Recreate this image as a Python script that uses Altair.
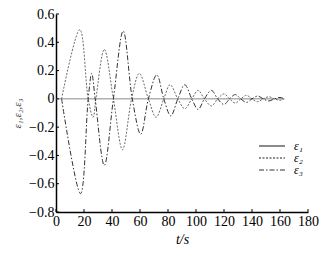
import altair as alt
import pandas as pd

# ε2 (dotted): time (s) and value
t_e2 = [4, 17, 23, 26.5, 28.5, 34.5, 41, 47.5, 54, 59.5, 66, 71.5, 77, 81.5, 87, 92, 97,
        101.5, 106, 111, 115.5, 120, 124, 128, 132, 136, 140, 144, 148, 152, 156, 160, 163]
v_e2 = [0, 0.49, 0, -0.13, 0, 0.35, 0, -0.36, 0, 0.18, 0, -0.13, 0, 0.10, 0, -0.07, 0,
        0.06, 0, -0.05, 0, 0.035, 0, -0.03, 0, 0.025, 0, -0.02, 0, 0.015, 0, -0.01, 0]

# ε3 (dash-dot)
t_e3 = [4, 17.5, 23, 25.5, 28, 34.5, 41, 48, 54.5, 60.5, 66, 72, 77, 82, 87, 92, 97,
        101.5, 106, 111, 115.5, 120, 124, 128, 132, 136, 140, 144, 148, 152, 156, 160, 163]
v_e3 = [0, -0.67, 0, 0.18, 0, -0.47, 0, 0.48, 0, -0.25, 0, 0.17, 0, -0.12, 0, 0.10, 0,
        -0.075, 0, 0.06, 0, -0.04, 0, 0.03, 0, -0.025, 0, 0.02, 0, -0.015, 0, 0.01, 0]

# ε1 (solid, stays at zero)
t_e1 = [0, 163]
v_e1 = [0, 0]

series_names = ["ε₁", "ε₂", "ε₃"]
x_ticks = [0, 20, 40, 60, 80, 100, 120, 140, 160, 180]
y_ticks = [-0.8, -0.6, -0.4, -0.2, 0, 0.2, 0.4, 0.6]

rows = []
for name, ts, vs in zip(series_names, [t_e1, t_e2, t_e3], [v_e1, v_e2, v_e3]):
    for i, (t, v) in enumerate(zip(ts, vs)):
        rows.append({"t": t, "v": v, "s": name, "o": i})
df = pd.DataFrame(rows)

FONT = "Liberation Serif"

xs = alt.Scale(domain=[0, 180], nice=False)
ys = alt.Scale(domain=[-0.8, 0.6], nice=False)

x_axis = alt.Axis(values=x_ticks, title="t/s", titleFontStyle="italic",
                  titleFont=FONT, titleFontSize=14, titleFontWeight="normal",
                  titlePadding=4, labelFont=FONT, labelFontSize=14,
                  labelPadding=2, tickSize=0, grid=False, domainColor="black",
                  labelColor="black", titleColor="black", labelFlush=False,
                  labelOverlap=False)
y_axis = alt.Axis(values=y_ticks, format=".1~f", title="ε₁,ε₂,ε₃",
                  titleFontStyle="italic",
                  titleFont=FONT, titleFontSize=11, titleFontWeight="normal",
                  titlePadding=6, labelFont=FONT, labelFontSize=14,
                  labelPadding=2, tickSize=0, grid=False, domainColor="black",
                  labelColor="black", titleColor="#333333", labelFlush=False,
                  labelOverlap=False)

lines = alt.Chart(df).mark_line(interpolate="catmull-rom", strokeWidth=1).encode(
    x=alt.X("t:Q", scale=xs, axis=x_axis),
    y=alt.Y("v:Q", scale=ys, axis=y_axis),
    color=alt.Color("s:N", scale=alt.Scale(domain=series_names,
                                           range=["#8a8a8a", "#6a6a6a", "#333333"]),
                    legend=alt.Legend(orient="none", legendX=210, legendY=126, title=None,
                                      padding=0, symbolType="M-3.25,0H3.25", symbolSize=64,
                                      symbolStrokeWidth=1.3, labelFont=FONT,
                                      labelFontSize=12, labelFontStyle="italic",
                                      rowPadding=-1, labelOffset=16, labelColor="black")),
    strokeDash=alt.StrokeDash("s:N", scale=alt.Scale(domain=series_names,
                                                     range=[[1, 0], [2, 1.5], [5, 2, 1.5, 2]]),
                              legend=None),
    strokeWidth=alt.StrokeWidth("s:N", scale=alt.Scale(domain=series_names,
                                                       range=[2, 1, 1]), legend=None),
    order="o:Q",
)

ytick_df = pd.DataFrame({"v": y_ticks})
xtick_df = pd.DataFrame({"t": x_ticks})

yticks = alt.Chart(ytick_df).mark_rule(color="black", strokeWidth=1).encode(
    y=alt.Y("v:Q", scale=ys, axis=y_axis), x=alt.value(0), x2=alt.value(3))
xticks = alt.Chart(xtick_df).mark_rule(color="black", strokeWidth=1).encode(
    x=alt.X("t:Q", scale=xs, axis=x_axis), y=alt.value(198), y2=alt.value(195))

chart = alt.layer(lines, yticks, xticks).properties(
    width=252, height=198,
    autosize=alt.AutoSizeParams(type="none"),
    padding={"left": 48, "top": 6, "right": 17, "bottom": 35},
).configure_view(stroke=None).configure_axis(domainWidth=1.5)

chart.save("out.html", embed_options={"renderer": "svg", "actions": False})
